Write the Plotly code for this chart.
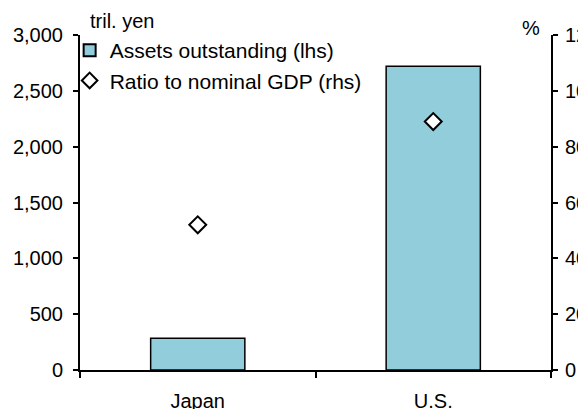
import plotly.graph_objects as go

categories = ["Japan", "U.S."]
assets = [285, 2720]          # tril. yen (lhs)
ratio_gdp = [52, 89]          # % (rhs)
left_ticks = [0, 500, 1000, 1500, 2000, 2500, 3000]
left_labels = ["0", "500", "1,000", "1,500", "2,000", "2,500", "3,000"]
right_ticks = [0, 20, 40, 60, 80, 100, 120]

FONT = "Liberation Sans, Arial, sans-serif"

fig = go.Figure()
fig.add_trace(go.Bar(
    x=categories, y=assets, name="Assets outstanding (lhs)",
    marker=dict(color="#92CDDC", line=dict(color="black", width=1.5)),
    width=0.4, yaxis="y",
))
fig.add_trace(go.Scatter(
    x=categories, y=ratio_gdp, name="Ratio to nominal GDP (rhs)",
    mode="markers", yaxis="y2",
    marker=dict(symbol="diamond", size=13, color="white",
                line=dict(color="black", width=2)),
))

# the page body adds an 8px offset, so the figure is 8px smaller
fig.update_layout(
    width=578, height=401,
    margin=dict(l=72, r=35, t=27, b=39, autoexpand=False),
    paper_bgcolor="white", plot_bgcolor="white",
    font=dict(family=FONT, size=20, color="black"),
    showlegend=True,
    legend=dict(x=-0.022, y=1.015, xanchor="left", yanchor="top",
                bgcolor="rgba(0,0,0,0)", font=dict(size=21),
                itemsizing="constant", tracegroupgap=0),
    xaxis=dict(
        showline=True, linecolor="black", linewidth=2,
        ticks="outside", ticklen=6, tickwidth=2, tickcolor="black",
        tickson="boundaries", ticklabelstandoff=12,
        showgrid=False, zeroline=False, automargin=False,
    ),
    yaxis=dict(
        range=[0, 3000], tickvals=left_ticks, ticktext=left_labels,
        showline=True, linecolor="black", linewidth=2,
        ticks="outside", ticklen=5, tickwidth=2, tickcolor="black",
        ticklabelstandoff=6,
        showgrid=False, zeroline=False, automargin=False,
    ),
    yaxis2=dict(
        range=[0, 120], tickvals=right_ticks, overlaying="y", side="right",
        showline=True, linecolor="black", linewidth=2,
        ticks="outside", ticklen=5, tickwidth=2, tickcolor="black",
        ticklabelstandoff=3,
        showgrid=False, zeroline=False, automargin=False,
    ),
    annotations=[
        dict(text="tril. yen", xref="paper", yref="paper", x=0.017, y=1.0,
             xanchor="left", yanchor="bottom", showarrow=False,
             font=dict(size=20), yshift=1),
        dict(text="%", xref="paper", yref="paper", x=0.981, y=1.0,
             xanchor="right", yanchor="middle", showarrow=False,
             font=dict(size=20), yshift=7),
    ],
)

fig.write_html("out.html")
